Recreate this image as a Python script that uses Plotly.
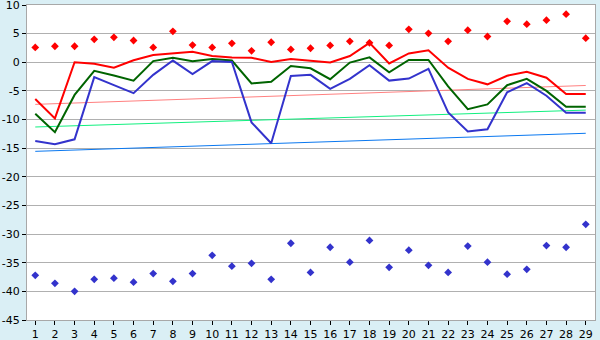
import plotly.graph_objects as go

categories = list(range(1, 30))

red_points = [2.6, 2.8, 2.8, 4.0, 4.35, 3.8, 2.6, 5.4, 3.0, 2.6,
              3.3, 2.0, 3.5, 2.25, 2.45, 2.95, 3.65, 3.4, 2.95, 5.75,
              5.05, 3.65, 5.6, 4.5, 7.15, 6.65, 7.35, 8.4, 4.2]
blue_points = [-37.2, -38.6, -40.0, -37.9, -37.7, -38.4, -36.9, -38.25, -36.9, -33.7,
               -35.6, -35.1, -37.9, -31.6, -36.7, -32.3, -34.9, -31.1, -35.8, -32.8,
               -35.45, -36.7, -32.1, -34.9, -37.0, -36.15, -32.0, -32.3, -28.3]
red_line = [-6.4, -9.8, 0.0, -0.25, -0.95, 0.35, 1.25, 1.55, 1.85, 1.1,
            0.85, 0.8, 0.05, 0.55, 0.2, -0.05, 1.1, 3.4, -0.2, 1.55,
            2.1, -0.95, -2.9, -3.85, -2.35, -1.65, -2.7, -5.55, -5.55]
green_line = [-9.0, -12.2, -5.7, -1.5, -2.3, -3.2, 0.2, 0.8, 0.2, 0.55,
              0.3, -3.7, -3.4, -0.65, -1.05, -2.95, -0.05, 0.85, -1.75, 0.4,
              0.4, -4.2, -8.2, -7.35, -4.0, -2.9, -5.0, -7.75, -7.75]
blue_line = [-13.75, -14.3, -13.45, -2.6, -4.0, -5.4, -2.2, 0.3, -2.05, 0.2,
             0.05, -10.5, -14.15, -2.4, -2.2, -4.65, -2.9, -0.5, -3.2, -2.85,
             -1.15, -8.75, -12.1, -11.7, -5.25, -3.65, -5.85, -8.8, -8.8]

trend_x = [1, 29]
salmon_trend = [-7.35, -4.05]
lightgreen_trend = [-11.3, -8.35]
blue_trend = [-15.55, -12.4]

y_ticks = [10, 5, 0, -5, -10, -15, -20, -25, -30, -35, -40, -45]
y_tick_labels = ["10", "5", "0", "-5", "-10", "-15", "-20", "-25", "-30", "-35", "-40", "-45"]

fig = go.Figure()

fig.add_trace(go.Scatter(x=trend_x, y=salmon_trend, mode="lines",
                         line=dict(color="#FF8080", width=1), hoverinfo="skip"))
fig.add_trace(go.Scatter(x=trend_x, y=lightgreen_trend, mode="lines",
                         line=dict(color="#11F07F", width=1), hoverinfo="skip"))
fig.add_trace(go.Scatter(x=trend_x, y=blue_trend, mode="lines",
                         line=dict(color="#0A78F0", width=1), hoverinfo="skip"))

fig.add_trace(go.Scatter(x=categories, y=red_line, mode="lines",
                         line=dict(color="#FF0000", width=2)))
fig.add_trace(go.Scatter(x=categories, y=green_line, mode="lines",
                         line=dict(color="#006400", width=2)))
fig.add_trace(go.Scatter(x=categories, y=blue_line, mode="lines",
                         line=dict(color="#3333CC", width=2)))

fig.add_trace(go.Scatter(x=categories, y=red_points, mode="markers",
                         marker=dict(symbol="diamond", size=6, color="#FF0000")))
fig.add_trace(go.Scatter(x=categories, y=blue_points, mode="markers",
                         marker=dict(symbol="diamond", size=6, color="#3333CC")))

fig.update_layout(
    width=600, height=340,
    margin=dict(l=27, r=5, t=5, b=20),
    paper_bgcolor="#DAEFF5",
    plot_bgcolor="#FFFFFF",
    showlegend=False,
    font=dict(family="DejaVu Sans", size=11, color="#000000"),
)
fig.update_xaxes(
    range=[0.58, 29.47], automargin=False,
    tickmode="array", tickvals=categories, ticktext=[str(c) for c in categories],
    showgrid=False, zeroline=False,
    showline=True, mirror=True, linecolor="#A8A8A8", linewidth=1,
    ticks="outside", ticklen=4, tickcolor="#000000", tickwidth=1,
    ticklabeloverflow="allow",
)
fig.update_yaxes(
    range=[-45, 10], automargin=False,
    tickmode="array", tickvals=y_ticks, ticktext=y_tick_labels,
    showgrid=True, gridcolor="#B0B0B0", gridwidth=1, zeroline=False,
    showline=True, mirror=True, linecolor="#A8A8A8", linewidth=1,
    ticks="outside", ticklen=4, tickcolor="#000000", tickwidth=1,
    ticklabeloverflow="allow",
)

fig.write_html("out.html",
               config={"displayModeBar": False},
               post_script="document.body.style.margin='0';document.body.style.overflow='hidden';")
